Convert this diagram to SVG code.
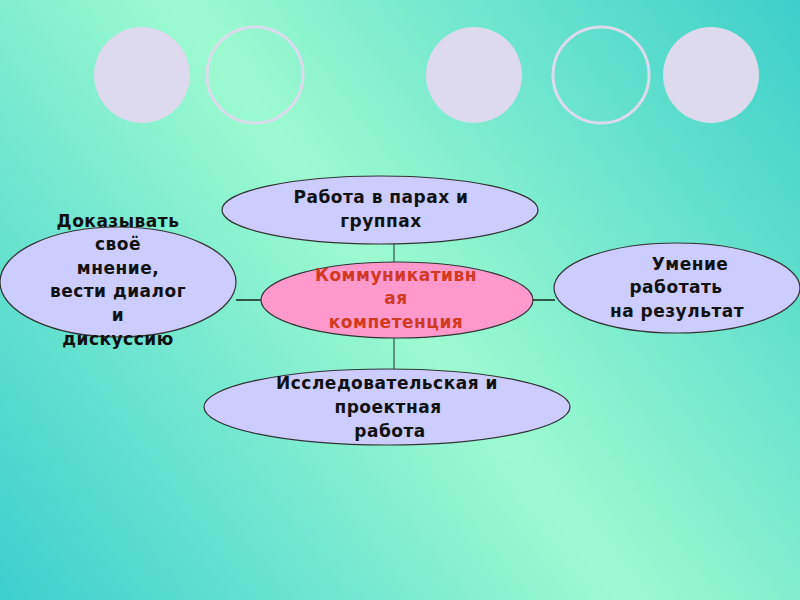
<svg xmlns="http://www.w3.org/2000/svg" width="800" height="600" viewBox="0 0 800 600">
<defs>
<linearGradient id="bg" gradientUnits="userSpaceOnUse" x1="800" y1="0" x2="0" y2="600">
<stop offset="0" stop-color="#3ccfcb"/>
<stop offset="0.5" stop-color="#9dfad0"/>
<stop offset="1" stop-color="#3ccfcf"/>
</linearGradient>
<style>
.deco{fill:#dcdaec}
.ring{fill:none;stroke:#dcdaec;stroke-width:3}
.node{fill:#ccccff;stroke:#333;stroke-width:1.2}
.core{fill:#ff99cc;stroke:#333;stroke-width:1.2}
.t{font-family:"DejaVu Sans","Liberation Sans",sans-serif;font-weight:bold;font-size:17px;letter-spacing:0.5px;fill:#111;text-anchor:middle}
.r{fill:#d03a22}
.ln{stroke:#2f5248;stroke-width:1.2;fill:none}
.lh{stroke:#2f5a48;stroke-width:2;fill:none}
</style>
</defs>
<rect width="800" height="600" fill="url(#bg)"/>
<g id="decor">
<circle class="deco" cx="142" cy="75" r="48"/>
<circle class="ring" cx="255" cy="75" r="48"/>
<circle class="deco" cx="474" cy="75" r="48"/>
<circle class="ring" cx="601" cy="75" r="48"/>
<circle class="deco" cx="711" cy="75" r="48"/>
</g>
<g id="connectors">
<line class="ln" x1="394" y1="243" x2="394" y2="264"/>
<line class="ln" x1="394" y1="337" x2="394" y2="370"/>
<line class="lh" x1="236" y1="300" x2="262" y2="300"/>
<line class="lh" x1="532" y1="300" x2="555" y2="300"/>
</g>
<g id="top">
<ellipse class="node" cx="380" cy="210" rx="158" ry="34"/>
<text class="t" x="381" y="203">Работа в парах и</text>
<text class="t" x="381" y="227">группах</text>
</g>
<g id="left">
<ellipse class="node" cx="118" cy="282" rx="118" ry="55"/>
<text class="t" x="118" y="227">Доказывать</text>
<text class="t" x="118" y="250">своё</text>
<text class="t" x="118" y="274">мнение,</text>
<text class="t" x="118" y="297">вести диалог</text>
<text class="t" x="118" y="321">и</text>
<text class="t" x="118" y="345">дискуссию</text>
</g>
<g id="center">
<ellipse class="core" cx="397" cy="300" rx="136" ry="38"/>
<text class="t r" x="396" y="281">Коммуникативн</text>
<text class="t r" x="396" y="304">ая</text>
<text class="t r" x="396" y="328">компетенция</text>
</g>
<g id="right">
<ellipse class="node" cx="677" cy="288" rx="123" ry="45"/>
<text class="t" x="690" y="270">Умение</text>
<text class="t" x="676" y="293">работать</text>
<text class="t" x="677" y="317">на результат</text>
</g>
<g id="bottom">
<ellipse class="node" cx="387" cy="407" rx="183" ry="38"/>
<text class="t" x="387" y="389">Исследовательская и</text>
<text class="t" x="388" y="413">проектная</text>
<text class="t" x="390" y="437">работа</text>
</g>
</svg>
